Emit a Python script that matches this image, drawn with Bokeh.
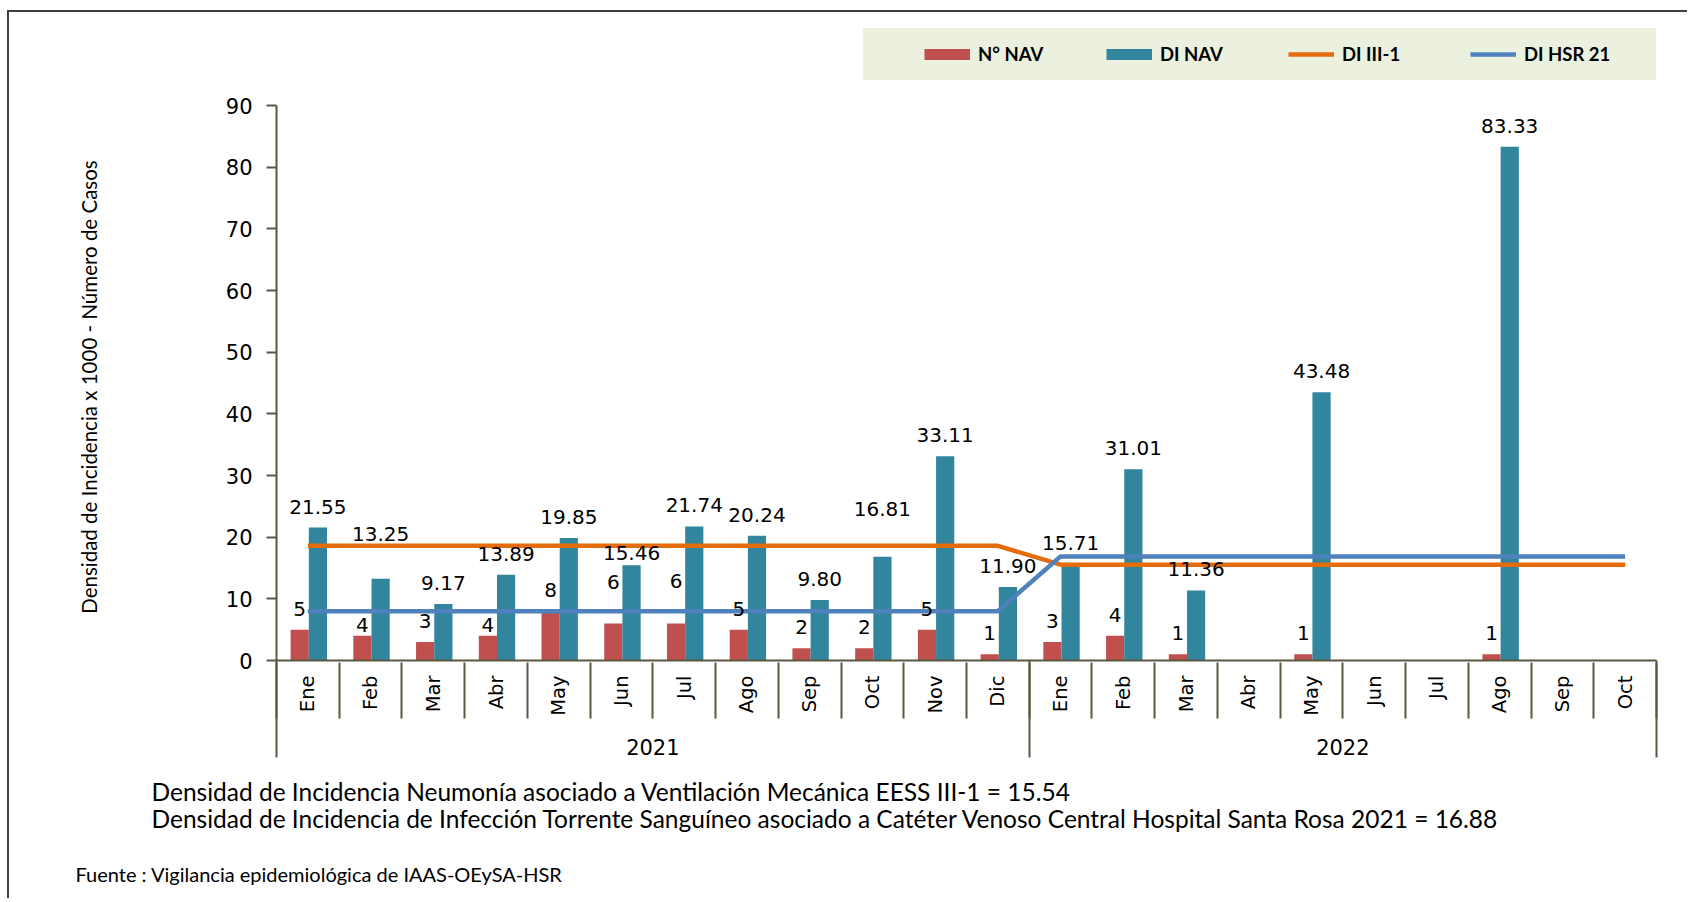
import math
from bokeh.plotting import figure
from bokeh.models import (Range1d, FixedTicker, LinearAxis, Legend, LegendItem, Title,
                          ColumnDataSource, CustomJSTickFormatter)
from bokeh.core.properties import value
from bokeh.embed import file_html
from bokeh.resources import INLINE

# ---------------- data ----------------
months = ["Ene", "Feb", "Mar", "Abr", "May", "Jun", "Jul", "Ago", "Sep", "Oct", "Nov", "Dic",
          "Ene", "Feb", "Mar", "Abr", "May", "Jun", "Jul", "Ago", "Sep", "Oct"]
years = ["2021", "2022"]
months_per_year = [12, 10]
n_nav = [5, 4, 3, 4, 8, 6, 6, 5, 2, 2, 5, 1,
         3, 4, 1, None, 1, None, None, 1, None, None]
di_nav = [21.55, 13.25, 9.17, 13.89, 19.85, 15.46, 21.74, 20.24, 9.80, 16.81, 33.11, 11.90,
          15.71, 31.01, 11.36, None, 43.48, None, None, 83.33, None, None]
di_iii1 = [18.6, 18.6, 18.6, 18.6, 18.6, 18.6, 18.6, 18.6, 18.6, 18.6, 18.6, 18.6,
           15.54, 15.54, 15.54, 15.54, 15.54, 15.54, 15.54, 15.54, 15.54, 15.54]
di_hsr21 = [8.0, 8.0, 8.0, 8.0, 8.0, 8.0, 8.0, 8.0, 8.0, 8.0, 8.0, 8.0,
            16.88, 16.88, 16.88, 16.88, 16.88, 16.88, 16.88, 16.88, 16.88, 16.88]
y_max = 90
y_ticks = [0, 10, 20, 30, 40, 50, 60, 70, 80, 90]
series_names = ["N° NAV", "DI NAV", "DI III-1", "DI HSR 21"]
y_title = "Densidad de Incidencia x 1000 - Número de Casos"
notes = ["Densidad de Incidencia Neumonía asociado a Ventilación Mecánica EESS III-1 = 15.54",
         "Densidad de Incidencia de Infección Torrente Sanguíneo asociado a Catéter Venoso Central Hospital Santa Rosa 2021 = 16.88"]
source_note = "Fuente : Vigilancia epidemiológica de IAAS-OEySA-HSR"

# ---------------- style ----------------
RED, TEAL, ORANGE, BLUE = "#C0504D", "#31859C", "#E46C0A", "#4F81BD"
AXIS = "#5B5741"
LEGEND_BG = "#EBF1DE"
NUM_FONT = "DejaVu Sans"
TXT_FONT = "Lato"
n_nudge = {1: 10, 3: 10, 5: -21, 6: -22}
di_nudge = {1: -24, 5: 9, 9: -27}
LABEL_GAP = -21

W, H = 1680, 888
FL, FR, FT, FB = 267, 33, 14, 240
PLOT_PX = 555          # pixel height of the 0..90 span
MONTH_AXIS_H = 54
TITLE_PAD = "\u2003" * 5 + "\u2002"   # keeps the rotated axis title centred on the 0..90 span

nan = float("nan")
n = len(months)
idx = list(range(n))
x_red = [i + 0.37 for i in idx]
x_teal = [i + 0.66 for i in idx]
x_mid = [i + 0.5 for i in idx]

frame_h = H - FT - FB
y_top = y_max * frame_h / PLOT_PX   # extra headroom holds the legend

p = figure(width=W, height=H, x_range=Range1d(0, n), y_range=Range1d(0, y_top),
           x_axis_type=None, output_backend="svg", toolbar_location=None,
           min_border_left=FL, min_border_right=FR, min_border_top=FT, min_border_bottom=FB,
           background_fill_color="white", border_fill_color="white", outline_line_color=None,
           styles={"margin-left": "7px", "margin-top": "10px",
                   "border-left": "2px solid #404040", "border-top": "2px solid #404040"})
p.grid.visible = False

src_red = ColumnDataSource(dict(x=x_red, top=[nan if v is None else v for v in n_nav]))
src_teal = ColumnDataSource(dict(x=x_teal, top=[nan if v is None else v for v in di_nav]))
p.vbar(x="x", top="top", width=0.29, source=src_red, fill_color=RED, line_color=None)
p.vbar(x="x", top="top", width=0.29, source=src_teal, fill_color=TEAL, line_color=None)
r_or = p.line(x_mid, di_iii1, line_color=ORANGE, line_width=4.5)
r_bl = p.line(x_mid, di_hsr21, line_color=BLUE, line_width=4.5)
# legend swatches for the bar series (full-size filled boxes)
sw_red = p.line([nan, nan], [nan, nan], line_color=RED, line_width=11)
sw_teal = p.line([nan, nan], [nan, nan], line_color=TEAL, line_width=11)

# data labels
vn = [i for i in idx if n_nav[i] is not None]
src_ln = ColumnDataSource(dict(x=[x_red[i] for i in vn], y=[n_nav[i] for i in vn],
                               t=[str(n_nav[i]) for i in vn],
                               dy=[LABEL_GAP + n_nudge.get(i, 0) for i in vn]))
vd = [i for i in idx if di_nav[i] is not None]
src_ld = ColumnDataSource(dict(x=[x_teal[i] for i in vd], y=[di_nav[i] for i in vd],
                               t=["%.2f" % di_nav[i] for i in vd],
                               dy=[LABEL_GAP + di_nudge.get(i, 0) for i in vd]))
for s in (src_ln, src_ld):
    p.text(x="x", y="y", text="t", y_offset="dy", source=s, text_align="center",
           text_baseline="middle", text_font=value(NUM_FONT), text_font_size="20px",
           text_color="black")

# y axis
ya = p.yaxis[0]
ya.ticker = FixedTicker(ticks=y_ticks)
ya.bounds = (0, y_max)
ya.major_label_text_font = NUM_FONT
ya.major_label_text_font_size = "21px"
ya.major_label_text_color = "black"
ya.axis_line_color = AXIS
ya.axis_line_width = 2
ya.major_tick_line_color = AXIS
ya.major_tick_line_width = 2
ya.major_tick_out = 10
ya.major_tick_in = 0
ya.minor_tick_line_color = None
ya.major_label_standoff = 14
ya.axis_label = y_title + TITLE_PAD
ya.axis_label_text_font = TXT_FONT
ya.axis_label_text_font_size = "20.5px"
ya.axis_label_text_font_style = "normal"
ya.axis_label_text_color = "black"
ya.axis_label_standoff = 122

# month axis (labels only)
xa = LinearAxis(ticker=FixedTicker(ticks=x_mid, minor_ticks=[]),
                formatter=CustomJSTickFormatter(args=dict(labels=months),
                                                code="return labels[Math.floor(tick)] || '';"),
                major_label_orientation=math.pi / 2,
                major_tick_line_color=None, major_tick_out=0, major_tick_in=0,
                minor_tick_line_color=None, minor_tick_out=0, minor_tick_in=0,
                axis_line_color=AXIS, axis_line_width=2,
                major_label_standoff=15,
                major_label_text_font=NUM_FONT, major_label_text_font_size="19.5px",
                major_label_text_color="black")
p.add_layout(xa, "below")

# year axis with month separators reaching up
year_centers = []
bounds = [0]
for c in months_per_year:
    year_centers.append(bounds[-1] + c / 2)
    bounds.append(bounds[-1] + c)
xa2 = LinearAxis(ticker=FixedTicker(ticks=year_centers, minor_ticks=list(range(n + 1))),
                 formatter=CustomJSTickFormatter(args=dict(c=year_centers, y=years), code="""
                    for (let i = 0; i < c.length; i++) { if (Math.abs(c[i] - tick) < 1e-6) return y[i]; }
                    return '';"""),
                 axis_line_color=None, major_tick_line_color=None, major_tick_out=0, major_tick_in=0,
                 minor_tick_line_color=AXIS, minor_tick_line_width=2,
                 minor_tick_out=0, minor_tick_in=MONTH_AXIS_H + 2,
                 major_label_standoff=20,
                 major_label_text_font=NUM_FONT, major_label_text_font_size="21px",
                 major_label_text_color="black")
p.add_layout(xa2, "below")

# group separators reaching up through both rows
xa3 = LinearAxis(ticker=FixedTicker(ticks=bounds, minor_ticks=[]),
                 formatter=CustomJSTickFormatter(code="return '';"),
                 axis_line_color=None, major_tick_line_color=AXIS, major_tick_line_width=2,
                 major_tick_out=0, major_tick_in=97,
                 minor_tick_line_color=None, major_label_standoff=0,
                 major_label_text_font_size="1px")
p.add_layout(xa3, "below")

# notes (titles stacked below)
p.add_layout(Title(text=notes[0] + "\n" + notes[1], align="left", offset=-125,
                   text_font=TXT_FONT, text_font_size="24.5px", text_font_style="normal",
                   text_line_height=0.92, text_color="black", standoff=35), "below")
p.add_layout(Title(text=source_note, align="left", offset=-201,
                   text_font=TXT_FONT, text_font_size="20px", text_font_style="normal",
                   text_color="black", standoff=19), "below")

legend = Legend(items=[LegendItem(label=series_names[0], renderers=[sw_red]),
                       LegendItem(label=series_names[1], renderers=[sw_teal]),
                       LegendItem(label=series_names[2], renderers=[r_or]),
                       LegendItem(label=series_names[3], renderers=[r_bl])],
                orientation="horizontal", location=(587, 580),
                title=" ", title_location="left", title_standoff=37,
                title_text_font_size="8px",
                background_fill_color=LEGEND_BG, background_fill_alpha=1,
                border_line_color=LEGEND_BG, border_line_width=1, padding=14, margin=0,
                spacing=0, label_standoff=8, glyph_width=46, glyph_height=12,
                label_width=128, label_height=21,
                label_text_font=TXT_FONT, label_text_font_style="bold",
                label_text_font_size="18.5px", label_text_color="black")
p.add_layout(legend, "center")

open("out.html", "w").write(file_html(p, INLINE))
